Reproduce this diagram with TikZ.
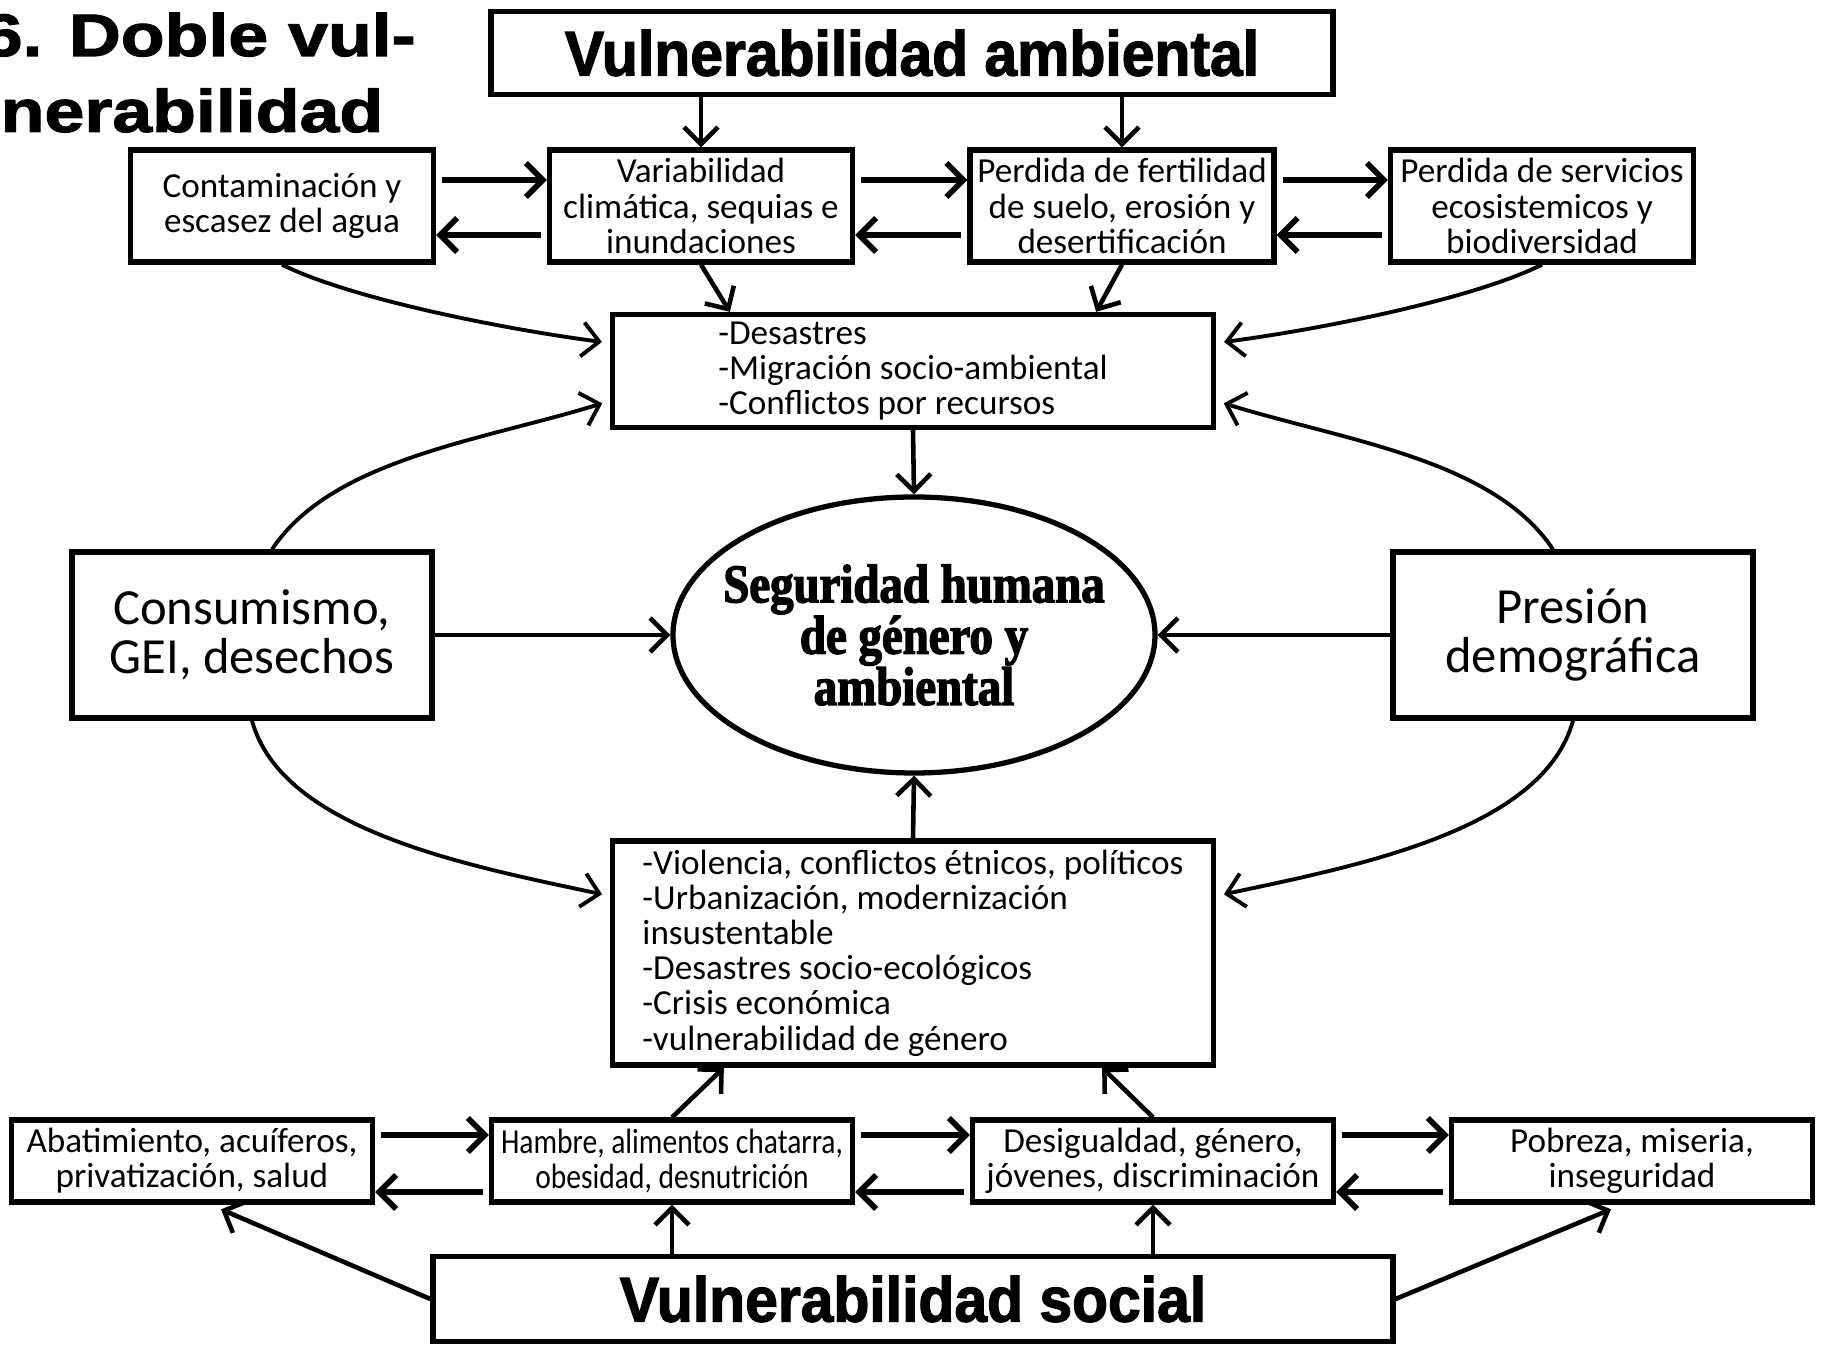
\documentclass[tikz,border=0pt]{standalone}
\usepackage{fontspec}
\newfontfamily\bodyfont{Carlito}
\newfontfamily\narrowfont[FakeStretch=0.84]{Carlito}
\newfontfamily\headfont[FakeStretch=0.93,FakeBold=2]{Liberation Sans}
\newfontfamily\titlefont[FakeStretch=1.2,FakeBold=2]{Liberation Sans}
\newfontfamily\heavyfont[FakeStretch=0.86,FakeBold=2.5]{Liberation Serif}
\newcommand\tightlines{\lineskiplimit=-20pt\relax}
\usetikzlibrary{arrows.meta}
\usetikzlibrary{shapes.geometric}

\tikzset{
  box/.style={draw, line width=1.5pt, inner sep=0pt, align=center,
    font=\bodyfont\fontsize{10}{10}\selectfont\tightlines},
  listbox/.style={box, align=left, minimum width=6.01cm},
  bigbox/.style={box, font=\headfont\bfseries\fontsize{18}{18}\selectfont},
  sidebox/.style={box, minimum width=3.6cm, minimum height=1.66cm,
    font=\bodyfont\fontsize{14.4}{14}\selectfont\tightlines},
  rowbox/.style={box, minimum width=3.03cm, minimum height=1.12cm},
  lowbox/.style={box, minimum width=3.61cm, minimum height=0.82cm},
  arr/.style={-{Straight Barb[length=1.7mm,width=3.4mm]}, line width=1.3pt},
  rowarr/.style={arr, line width=1.6pt, shorten <=0.6mm},
  curvearr/.style={arr, line width=1.1pt, shorten >=0.8mm}
}

\begin{document}
\begin{tikzpicture}[x=0.1mm,y=-0.1mm]
        \useasboundingbox (0,0) rectangle (1825,1348);
        \fill[white] (0,0) rectangle (1825,1348);

        % title
        \node[anchor=north west, align=left, inner sep=0pt,
          font=\titlefont\bfseries\fontsize{17}{21.6}\selectfont] (titulo) at (-18,12) {6. Doble vul-\\\hspace*{1.8mm}nerabilidad};

        % top
        \node[bigbox, minimum width=8.42cm, minimum height=0.83cm] (amb) at (912,53) {Vulnerabilidad ambiental};
        \node[rowbox] (cont) at (282,206) {Contaminación y\\escasez del agua};
        \node[rowbox] (vari) at (701,206) {Variabilidad\\climática, sequias e\\inundaciones};
        \node[rowbox, minimum width=3.04cm] (fert) at (1122,206) {Perdida de fertilidad\\de suelo, erosión y\\desertificación};
        \node[rowbox] (serv) at (1542,206) {Perdida de servicios\\ecosistemicos y\\biodiversidad};
        \node[listbox, minimum height=1.13cm] (desa) at (913,371) {-Desastres\\-Migración socio-ambiental\\-Conflictos por recursos};

        % middle
        \node[ellipse, draw, line width=1.5pt, inner xsep=-4.5mm, inner ysep=0pt, minimum width=4.82cm, minimum height=2.76cm, align=center,
          font=\heavyfont\bfseries\fontsize{15.5}{14.6}\selectfont\tightlines] (segu) at (914,635) {Seguridad humana\\de género y\\ambiental};
        \node[sidebox] (cons) at (252,635) {Consumismo,\\GEI, desechos};
        \node[sidebox] (pres) at (1573,635) {Presión\\demográfica};

        % bottom
        \node[listbox, minimum height=2.24cm] (viol) at (913,953) {-Violencia, conflictos étnicos, políticos\\-Urbanización, modernización\\insustentable\\-Desastres socio-ecológicos\\-Crisis económica\\-vulnerabilidad de género};
        \node[lowbox] (abat) at (192,1161) {Abatimiento, acuíferos,\\privatización, salud};
        \node[lowbox, font=\narrowfont\fontsize{10}{10}\selectfont\tightlines] (hamb) at (672,1161) {Hambre, alimentos chatarra,\\obesidad, desnutrición};
        \node[lowbox] (desi) at (1153,1161) {Desigualdad, género,\\jóvenes, discriminación};
        \node[lowbox] (pobr) at (1632,1161) {Pobreza, miseria,\\inseguridad};
        \node[bigbox, minimum width=9.6cm, minimum height=0.85cm] (soc) at (913,1299) {Vulnerabilidad social};

        % arrows top
        \draw[arr] (amb.south -| vari.north) -- (vari.north);
        \draw[arr] (amb.south -| fert.north) -- (fert.north);
        \foreach \a/\b in {cont/vari, vari/fert, fert/serv}
        {
            \draw[rowarr] ([yshift=2.6mm]\a.east) -- ([yshift=2.6mm]\b.west);
            \draw[rowarr] ([yshift=-2.9mm]\b.west) -- ([yshift=-2.9mm]\a.east);
        }
        \draw[arr] (vari.south) -- ([xshift=12mm]desa.north west);
        \draw[arr] (fert.south) -- ([xshift=-12mm]desa.north east);
        \draw[curvearr] (cont.south) .. controls +(70,35) and +(-100,-13) .. ([yshift=2.8mm]desa.west);
        \draw[curvearr] (serv.south) .. controls +(-70,35) and +(100,-13) .. ([yshift=2.8mm]desa.east);
        \draw[arr] (desa.south) -- (segu.north);

        % arrows middle
        \draw[curvearr] ([xshift=2mm]cons.north) .. controls +(60,-90) and +(-130,40) .. ([yshift=-3mm]desa.west);
        \draw[curvearr] ([xshift=-2mm]pres.north) .. controls +(-60,-90) and +(130,40) .. ([yshift=-3mm]desa.east);
        \draw[arr] (cons.east) -- (segu.west);
        \draw[arr] (pres.west) -- (segu.east);
        \draw[curvearr] (cons.south) .. controls +(30,110) and +(-140,-30) .. ([yshift=5.7mm]viol.west);
        \draw[curvearr] (pres.south) .. controls +(-30,110) and +(140,-30) .. ([yshift=5.7mm]viol.east);
        \draw[arr] (viol.north) -- (segu.south);

        % arrows bottom
        \draw[arr] (hamb.north) -- ([xshift=11.4mm]viol.south west);
        \draw[arr] (desi.north) -- ([xshift=-11.4mm]viol.south east);
        \foreach \a/\b in {abat/hamb, hamb/desi, desi/pobr}
        {
            \draw[rowarr] ([yshift=2.6mm]\a.east) -- ([yshift=2.6mm]\b.west);
            \draw[rowarr] ([yshift=-3.1mm]\b.west) -- ([yshift=-3.1mm]\a.east);
        }
        \draw[arr] (soc.north -| hamb.south) -- (hamb.south);
        \draw[arr] (soc.north -| desi.south) -- (desi.south);
        \draw[arr, shorten >=1.2mm] (soc.west) -- ([xshift=1.8mm]abat.south);
        \draw[arr, shorten >=1.2mm] (soc.east) -- ([xshift=-1mm]pobr.south);
\end{tikzpicture}
\end{document}
